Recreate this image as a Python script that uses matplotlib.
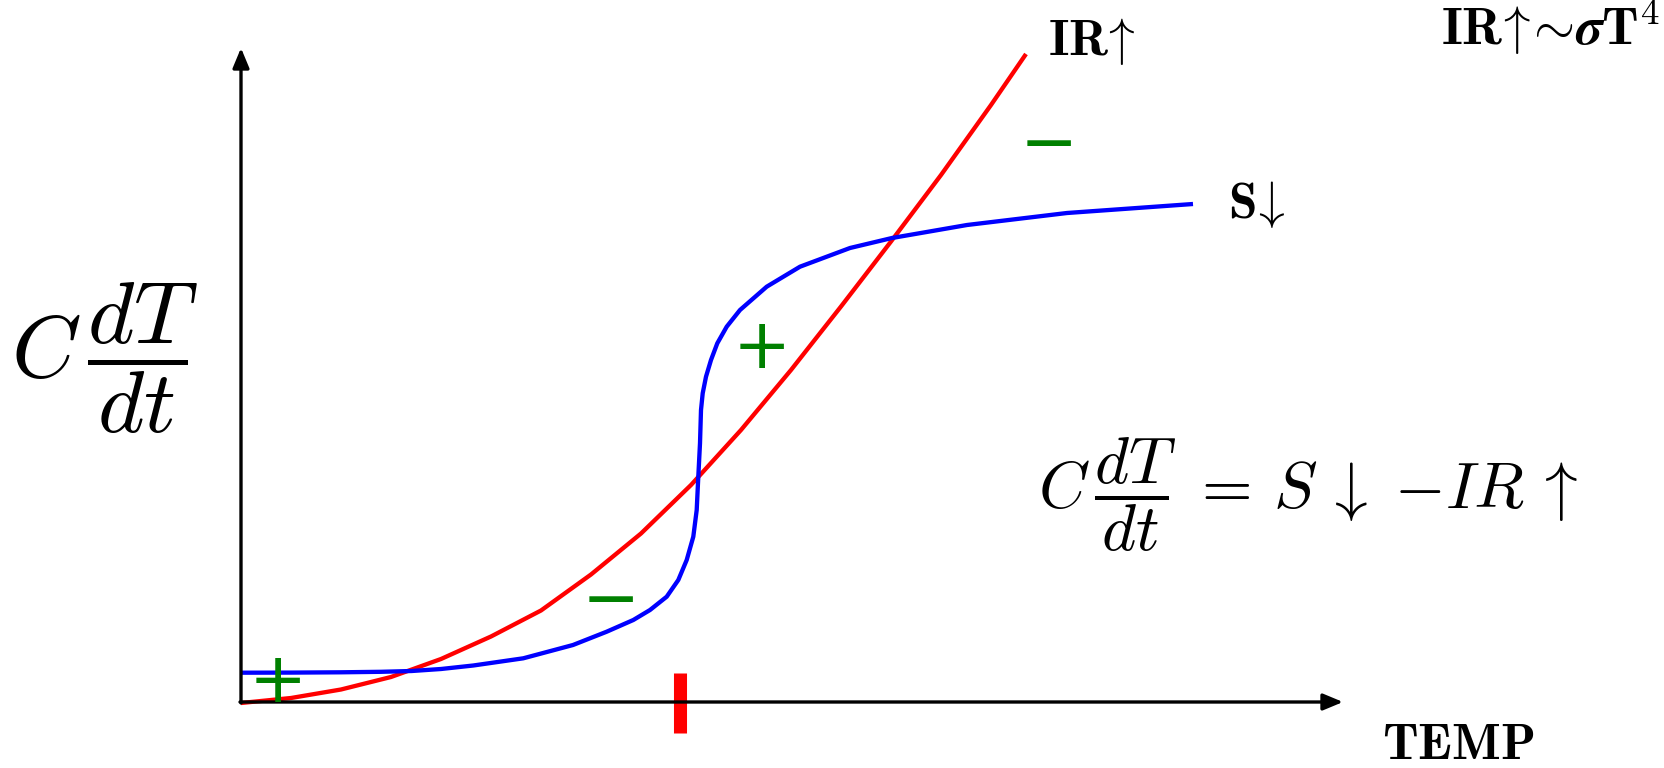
import matplotlib
matplotlib.use("Agg")
import matplotlib.pyplot as plt

plt.rcParams['mathtext.fontset'] = 'cm'
plt.rcParams['font.family'] = ['DejaVu Sans']

# ---- data (temperature, flux) ----
ir_temp = [0.0, 5.0, 10.0, 15.0, 20.0, 25.0, 30.0, 35.0, 40.0, 45.0, 50.0,
           55.0, 60.0, 65.0, 70.0, 75.0, 78.5]
ir_flux = [-0.1, 0.4, 1.25, 2.5, 4.3, 6.55, 9.15, 12.75, 16.85, 21.7, 27.2,
           33.2, 39.55, 46.05, 52.7, 59.7, 64.8]

s_temp = [0.0, 5.0, 10.0, 14.0, 17.07, 20.0, 23.23, 28.23, 33.2, 36.57, 39.23,
          40.9, 42.57, 43.73, 44.57, 45.23, 45.57, 45.73, 45.9, 46.0, 46.17,
          46.5, 47.0, 47.63, 48.57, 49.9, 52.57, 55.9, 60.9, 65.1, 72.6,
          82.6, 95.2]
s_flux = [2.93, 2.94, 2.97, 3.02, 3.1, 3.3, 3.65, 4.37, 5.7, 7.03, 8.2,
          9.2, 10.53, 12.2, 14.2, 16.53, 19.2, 22.53, 25.87, 29.2, 30.87,
          32.53, 34.2, 35.87, 37.53, 39.2, 41.53, 43.53, 45.4, 46.4, 47.7,
          48.9, 49.8]

eq_temp = 43.9          # red tick on the temperature axis
axis_x_max = 110.2
axis_y_max = 65.4

# sign annotations: (label, T, flux)
signs = [('+', 3.7, 2.7), ('+', 52.1, 36.1), ('\u2212', 37.0, 10.8), ('\u2212', 80.8, 56.4)]

W, H = 1665, 768
fig = plt.figure(figsize=(W / 100, H / 100), dpi=100)
ax = fig.add_axes([0, 0, 1, 1])
ax.set_xlim(-24.1, (W - 241) / 10)
ax.set_ylim(-(H - 702) / 10, 70.2)
ax.axis('off')

# axes arrows
arrow_kw = dict(arrowstyle='-|>,head_length=12,head_width=5', lw=2.4,
                color='black', mutation_scale=1, shrinkA=0, shrinkB=0)
ax.annotate('', xy=(axis_x_max, 0), xytext=(-0.1, 0), arrowprops=arrow_kw)
ax.annotate('', xy=(0, axis_y_max), xytext=(0, -0.1), arrowprops=arrow_kw)

# curves
ax.plot(ir_temp, ir_flux, color='red', lw=3.1, solid_capstyle='butt',
        solid_joinstyle='round')
ax.plot(s_temp, s_flux, color='blue', lw=3.1, solid_capstyle='butt',
        solid_joinstyle='round')

# equilibrium tick
ax.vlines(eq_temp, -3.1, 2.9, colors='red', lw=9.4)

# signs
for lab, t, f in signs:
    ax.text(t, f, lab, color='green', fontsize=50, ha='center', va='center_baseline',
            family='DejaVu Sans')

# labels
ax.text(80.7, 64.7, r'$\mathbf{IR}\!\uparrow$', fontsize=37, ha='left', va='baseline')
ax.text(141.9, 65.7,
        r'$\mathbf{IR}\!\uparrow\!\!\boldsymbol{\sim}\!\boldsymbol{\sigma}\mathbf{T}^{\mathbf{4}}$',
        fontsize=38, ha='right', va='baseline')
ax.text(98.7, 48.4, r'$\mathbf{S}\!\downarrow$', fontsize=37, ha='left', va='baseline')
ax.text(114.1, -5.7, r'$\mathbf{TEMP}$', fontsize=37, ha='left', va='baseline')
ax.text(79.7, 20.7, r'$C\,\dfrac{dT}{dt}\;=\,S\,\downarrow\;{-}IR\,\uparrow$', fontsize=47,
        ha='left', va='center')
ax.text(-23.0, 34.4, r'$C\,\dfrac{dT}{dt}$', fontsize=64, ha='left', va='center')

fig.savefig('out.png', dpi=100)
